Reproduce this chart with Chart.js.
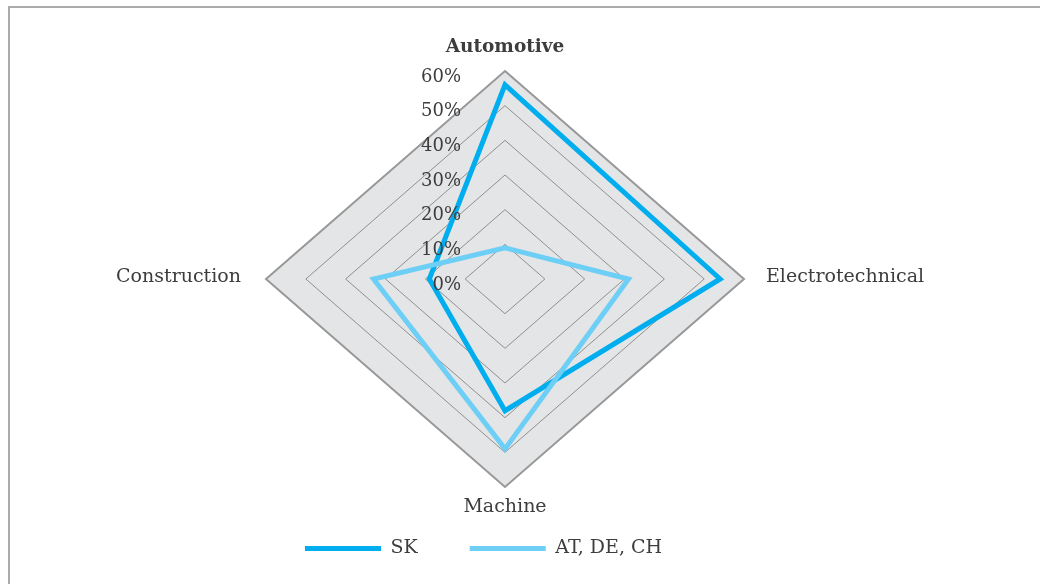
<!DOCTYPE html>
<html>
<head>
<meta charset="utf-8">
<script src="https://cdn.jsdelivr.net/npm/chart.js@4/dist/chart.umd.min.js"></script>
<style>
  html, body { margin: 0; padding: 0; background: #ffffff; }
  #wrap { position: relative; width: 1040px; height: 584px; overflow: hidden; }
  #frame { position: absolute; left: 8px; top: 6px; width: 1200px; height: 800px;
           border-top: 2px solid #ababab; border-left: 2px solid #ababab; }
  #c { position: absolute; left: 0; top: 0; }
</style>
</head>
<body>
<div id="wrap">
  <div id="frame"></div>
  <canvas id="c" width="1040" height="584"></canvas>
</div>
<script>
// Sector shares of exporters (%)
const categories = ['Automotive', 'Electrotechnical', 'Machine', 'Construction'];
const seriesNames = ['SK', 'AT, DE, CH'];
const skValues = [56, 54, 38, 19];
const dachValues = [9, 31, 49, 33];
const scaleMax = 60;
const scaleStep = 10;

const TEXT_COLOR = '#3d3d3d';
const FONT_FAMILY = "'DejaVu Serif', serif";
// horizontal axis radius relative to the vertical one (diamond is wider than tall)
const H_STRETCH = 239 / 208;

Chart.defaults.font.family = FONT_FAMILY;
Chart.defaults.color = TEXT_COLOR;

// Radial scale drawn as a horizontally stretched diamond, with the
// percentage labels left of the vertical axis and custom category labels.
class StretchedRadialScale extends Chart.RadialLinearScale {
  getPointPosition(index, distance, additionalAngle = 0) {
    const p = super.getPointPosition(index, distance, additionalAngle);
    return { x: this.xCenter + (p.x - this.xCenter) * H_STRETCH, y: p.y, angle: p.angle };
  }

  drawGrid() {
    super.drawGrid();
    const ctx = this.ctx;
    ctx.save();
    ctx.fillStyle = TEXT_COLOR;
    ctx.textBaseline = 'middle';
    this._pointLabels.forEach((label, i) => {
      const p = this.getPointPosition(i, this.drawingArea);
      const dx = p.x - this.xCenter;
      const dy = p.y - this.yCenter;
      let x = p.x, y = p.y;
      if (Math.abs(dx) < 1) {
        ctx.textAlign = 'center';
        y += dy < 0 ? -24 : 20;
      } else {
        ctx.textAlign = dx > 0 ? 'left' : 'right';
        x += dx > 0 ? 22 : -25;
        y -= 2;
      }
      ctx.font = i === 0 ? 'bold 18.5px ' + FONT_FAMILY : '19px ' + FONT_FAMILY;
      ctx.fillText(label, x, y);
    });
    ctx.restore();
  }

  drawLabels() {
    const ctx = this.ctx;
    const tickOpts = this.options.ticks;
    const font = Chart.helpers.toFont(tickOpts.font);
    ctx.save();
    ctx.font = font.string;
    ctx.fillStyle = tickOpts.color;
    ctx.textAlign = 'right';
    ctx.textBaseline = 'middle';
    this.ticks.forEach((tick) => {
      const y = this.yCenter - this.getDistanceFromCenterForValue(tick.value) + 6;
      ctx.fillText(tick.label, this.xCenter - 44, y);
    });
    ctx.restore();
  }
}
StretchedRadialScale.id = 'stretchedRadial';
Chart.register(StretchedRadialScale);

new Chart(document.getElementById('c'), {
  type: 'radar',
  data: {
    labels: categories,
    datasets: [
      {
        label: seriesNames[0],
        data: skValues,
        borderColor: '#00aeef',
        backgroundColor: '#00aeef',
        borderWidth: 5,
        borderJoinStyle: 'miter',
        borderCapStyle: 'round',
        fill: false,
        pointRadius: 0,
        clip: false,
        order: 1
      },
      {
        label: seriesNames[1],
        data: dachValues,
        borderColor: '#6dcff6',
        backgroundColor: '#6dcff6',
        borderWidth: 5,
        borderJoinStyle: 'miter',
        borderCapStyle: 'round',
        fill: false,
        pointRadius: 0,
        clip: false,
        order: 0
      }
    ]
  },
  options: {
    responsive: false,
    animation: false,
    devicePixelRatio: 1,
    layout: { padding: { top: 71, left: 253, right: 283, bottom: 16 } },
    plugins: {
      tooltip: { enabled: false },
      legend: {
        position: 'bottom',
        align: 'start',
        labels: {
          usePointStyle: true,
          pointStyle: 'line',
          pointStyleWidth: 76,
          padding: 52,
          color: TEXT_COLOR,
          font: { size: 19, family: FONT_FAMILY },
          sort: (a, b) => a.datasetIndex - b.datasetIndex
        }
      }
    },
    scales: {
      r: {
        type: 'stretchedRadial',
        min: 0,
        max: scaleMax,
        backgroundColor: '#e4e5e6',
        angleLines: { display: false },
        grid: {
          color: (c) => (c.tick && c.tick.value === scaleMax ? '#989898' : '#909090'),
          lineWidth: (c) => (c.tick && c.tick.value === scaleMax ? 2 : 1)
        },
        pointLabels: { display: false },
        ticks: {
          display: false,
          stepSize: scaleStep,
          z: 1,
          color: TEXT_COLOR,
          font: { size: 18, family: FONT_FAMILY },
          callback: (v) => v + '%'
        }
      }
    }
  }
});
</script>
</body>
</html>
